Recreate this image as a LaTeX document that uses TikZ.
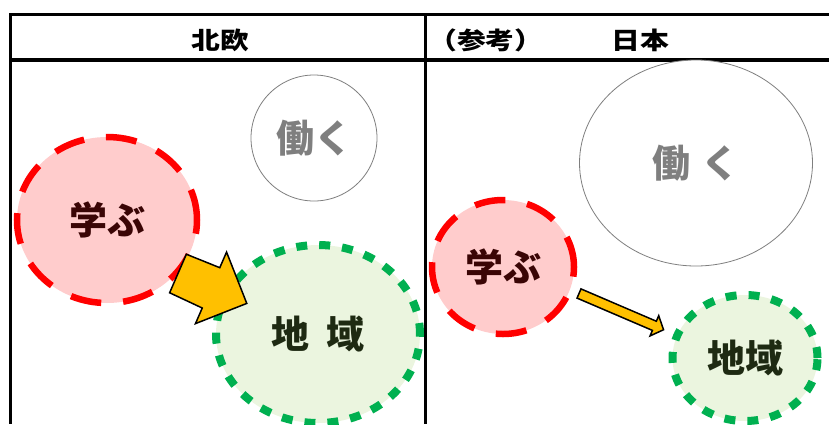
\documentclass[tikz,border=0pt]{standalone}
\usepackage{fontspec}
\newfontfamily\jp{Noto Sans CJK JP}
\newfontfamily\hdr[FakeStretch=1.2]{Noto Sans CJK JP}
\usetikzlibrary{shapes.geometric, calc}
\definecolor{manabuedge}{HTML}{FF0000}
\definecolor{manabufill}{HTML}{FFCCCC}
\definecolor{manabutext}{HTML}{3A0505}
\definecolor{chiikiedge}{HTML}{00B050}
\definecolor{chiikifill}{HTML}{EBF5DF}
\definecolor{chiikitext}{HTML}{1E2A12}
\definecolor{hatarakuedge}{HTML}{7F7F7F}
\definecolor{arrowfill}{HTML}{FFC000}

\begin{document}
\begin{tikzpicture}[
  x=1pt, y=-1pt,
  rule/.style={line width=3pt, black},
  head/.style={font=\hdr\bfseries\fontsize{24}{24}\selectfont, inner sep=0pt},
  Big/.style={font=\jp\bfseries\fontsize{38}{38}\selectfont, inner sep=0pt},
  Manabu/.style={Big, ellipse, draw=manabuedge, fill=manabufill, line width=6.5pt,
    dash pattern=on 31pt off 22pt, text=manabutext},
  Chiiki/.style={Big, ellipse, draw=chiikiedge, fill=chiikifill, line width=8pt,
    dash pattern=on 11pt off 12pt, text=chiikitext},
  Hataraku/.style={Big, ellipse, draw=hatarakuedge, fill=white, line width=0.8pt,
    text=hatarakuedge},
  blockarr/.style={draw=black, fill=arrowfill, line width=1.5pt, line join=miter}
]
  \useasboundingbox (0,0) rectangle (829,424);
  \clip (0,0) rectangle (829,424);

  % table
  \draw[rule] (10.5,14.5) -- (829,14.5);
  \draw[line width=4pt] (10.5,60) -- (829,60);
  \draw[rule] (10.5,13) -- (10.5,424);
  \draw[rule] (425.5,13) -- (425.5,424);

  \node[head] (hdrL) at (220,40) {北欧};
  \node[head, anchor=west] (hdrR) at (428,40) {（参考）\hspace{68pt}日本};

  % north europe
  \node[Hataraku, minimum width=126, minimum height=126] (hatarakuL) at (314,138) {働く};
  \node[Manabu, minimum width=180, minimum height=166] (manabuL) at (107,220) {学ぶ};
  \node[Chiiki, minimum width=204, minimum height=178] (chiikiL) at (318,334) {地\hspace{0.45em}域};

  % japan
  \node[Hataraku, minimum width=233, minimum height=206] (hatarakuR) at (696,163) {働\hspace{0.3em}く};
  \node[Manabu, minimum width=142, minimum height=134] (manabuR) at (503,267) {学ぶ};
  \node[Chiiki, minimum width=145, minimum height=126] (chiikiR) at (745,358) {地域};

  % arrows
  \coordinate (tailL) at (178,273.5);
  \coordinate (tailR) at (579,293.5);
  \begin{scope}[shift={(tailL)}, rotate=-23.5]
    \draw[blockarr] (0,-21) -- (36,-22) -- (36,-39) -- (75,0) -- (36,39) -- (36,22) -- (0,21) -- cycle;
  \end{scope}
  \begin{scope}[shift={(tailR)}, rotate=-23.2]
    \draw[blockarr] (0,-5) -- (82,-5) -- (82,-11) -- (92,0) -- (82,11) -- (82,5) -- (0,5) -- cycle;
  \end{scope}
\end{tikzpicture}
\end{document}
